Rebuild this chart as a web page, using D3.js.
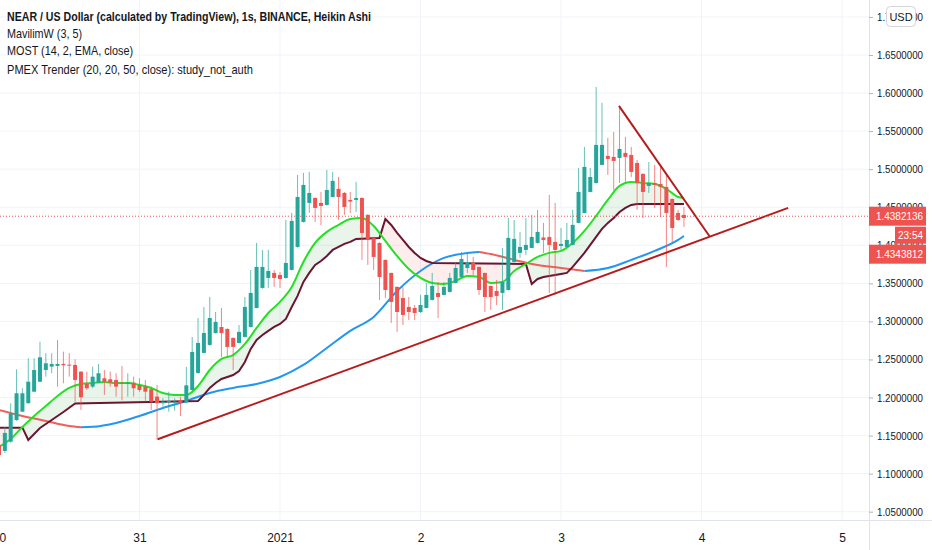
<!DOCTYPE html>
<html>
<head>
<meta charset="utf-8">
<script src="https://cdn.jsdelivr.net/npm/d3@7"></script>
<style>
  html, body { margin: 0; padding: 0; background: #fff; }
  svg { display: block; }
</style>
</head>
<body>
<div id="chart"></div>
<script>
// hourly Heikin Ashi candles, hour 0 = 30 Dec 00:00
const opens = [1.1377,1.1298,1.1420,1.1705,1.1814,1.1925,1.2077,1.2208,1.2362,1.2406,1.2415,1.2441,1.2432,1.2428,1.2340,1.2178,1.2143,1.2195,1.2253,1.2240,
  1.2231,1.2195,1.2178,1.2195,1.2165,1.2143,1.2109,1.2012,1.1925,1.1938,1.1933,1.1964,1.1935,1.2099,1.2323,1.2586,1.2691,1.2848,1.2927,1.2901,
  1.2783,1.2717,1.2796,1.2927,1.3177,1.3440,1.3571,1.3637,1.3611,1.3571,1.3676,1.3978,1.4307,1.4557,1.4622,1.4557,1.4530,1.4635,1.4741,1.4688,
  1.4596,1.4596,1.4622,1.4399,1.4097,1.4031,1.3808,1.3637,1.3453,1.3308,1.3190,1.3177,1.3124,1.3177,1.3282,1.3374,1.3348,1.3387,1.3505,1.3584,
  1.3702,1.3768,1.3716,1.3637,1.3466,1.3400,1.3374,1.3413,1.3781,1.3900,1.3939,1.3965,1.4031,1.4103,1.4110,1.4044,1.3992,1.3978,1.4005,1.4294,
  1.4425,1.4701,1.4819,1.5056,1.5174,1.5161,1.5148,1.5214,1.5187,1.5082,1.4938,1.4780,1.4819,1.4806,1.4767,1.4609,1.4425,1.4399];
const highs = [1.1403,1.1613,1.1925,1.2371,1.2122,1.2516,1.2516,1.2734,1.2582,1.2582,1.2756,1.2603,1.2582,1.2503,1.2345,1.2340,1.2406,1.2441,1.2362,1.2340,
  1.2319,1.2415,1.2319,1.2274,1.2253,1.2231,1.2143,1.2165,1.1990,1.2077,1.1990,1.2012,1.2402,1.2796,1.3045,1.3190,1.3321,1.3124,1.3177,1.2910,
  1.2790,1.2953,1.3321,1.3676,1.4031,1.3939,1.3939,1.3676,1.3650,1.4333,1.4425,1.4924,1.4951,1.4964,1.4630,1.4701,1.4990,1.4964,1.4898,1.4700,
  1.4701,1.4833,1.4630,1.4410,1.4100,1.4040,1.3815,1.3640,1.3460,1.3453,1.3321,1.3216,1.3348,1.3505,1.3637,1.3518,1.3518,1.3637,1.3781,1.3913,
  1.3913,1.3847,1.3720,1.3640,1.3470,1.3545,1.3965,1.4359,1.4333,1.4176,1.4359,1.4399,1.4465,1.4294,1.4662,1.4557,1.4228,1.4294,1.4465,1.5017,
  1.5292,1.5017,1.6081,1.5871,1.5411,1.5490,1.5818,1.5424,1.5292,1.5122,1.4945,1.5095,1.5056,1.5030,1.4924,1.4615,1.4465,1.4504];
const lows = [1.1206,1.1272,1.1403,1.1692,1.1810,1.1920,1.2070,1.2200,1.2274,1.2319,1.2143,1.2188,1.2274,1.1946,1.1837,1.2099,1.2122,1.2190,1.2034,1.2143,
  1.2012,1.1964,1.2012,1.2012,1.2073,1.1946,1.1837,1.1442,1.1880,1.1814,1.1827,1.1758,1.1925,1.2090,1.2310,1.2580,1.2680,1.2840,1.2533,1.2533,
  1.2362,1.2710,1.2790,1.2920,1.3170,1.3430,1.3440,1.3453,1.3440,1.3560,1.3670,1.3970,1.4300,1.4425,1.4307,1.4268,1.4520,1.4630,1.4333,1.4399,
  1.4425,1.4438,1.3808,1.3742,1.3676,1.3282,1.3308,1.2980,1.2862,1.2953,1.3019,1.3019,1.3110,1.3170,1.3275,1.3045,1.3340,1.3380,1.3500,1.3580,
  1.3637,1.3611,1.3348,1.3124,1.3150,1.3216,1.3150,1.3405,1.3775,1.3834,1.3873,1.3960,1.4020,1.3900,1.3374,1.3348,1.3939,1.3970,1.4000,1.4290,
  1.4420,1.4695,1.4810,1.5050,1.4924,1.4727,1.4819,1.4819,1.4898,1.4465,1.4359,1.4688,1.4491,1.4373,1.3716,1.4044,1.4320,1.4241];
const closes = [1.1245,1.1535,1.1793,1.2056,1.2056,1.2208,1.2362,1.2529,1.2450,1.2441,1.2441,1.2424,1.2419,1.2231,1.2004,1.2122,1.2274,1.2319,1.2208,1.2195,
  1.2143,1.2182,1.2195,1.2122,1.2099,1.2077,1.1946,1.1925,1.1946,1.1955,1.1946,1.1933,1.2160,1.2599,1.2717,1.2848,1.3045,1.2993,1.2848,1.2665,
  1.2665,1.2862,1.3190,1.3374,1.3716,1.3716,1.3663,1.3571,1.3558,1.3768,1.4320,1.4635,1.4793,1.4688,1.4491,1.4517,1.4727,1.4846,1.4635,1.4504,
  1.4574,1.4622,1.4162,1.4070,1.3847,1.3584,1.3413,1.3256,1.3124,1.3085,1.3124,1.3111,1.3216,1.3348,1.3466,1.3321,1.3453,1.3571,1.3702,1.3821,
  1.3781,1.3676,1.3413,1.3321,1.3321,1.3335,1.3518,1.4097,1.4084,1.3978,1.4005,1.4110,1.4176,1.4070,1.4005,1.3939,1.4018,1.4070,1.4268,1.4701,
  1.5030,1.4898,1.5319,1.5319,1.5135,1.5108,1.5266,1.5161,1.4964,1.4819,1.4701,1.4819,1.4793,1.4767,1.4425,1.4228,1.4333,1.4359];

// MavilimW (green), sampled every 2 hours
const mavHours = [0,2,4,6,8,10,12,14,16,18,20,22,24,26,28,30,32,34,36,38,40,42,44,46,48,50,52,54,56,58,
  60,62,64,66,68,70,72,74,76,78,80,82,84,86,88,90,92,94,96,98,100,102,104,106,108,110,112,114,116,117];
const mavValues = [1.1350,1.1456,1.1613,1.1758,1.1889,1.2021,1.2126,1.2178,1.2191,1.2205,1.2191,1.2191,1.2165,1.2126,1.2060,1.2034,1.2034,1.2152,1.2362,1.2507,
  1.2559,1.2704,1.2914,1.3111,1.3256,1.3453,1.3781,1.4031,1.4176,1.4267,1.4346,1.4359,1.4254,1.4057,1.3860,1.3689,1.3571,1.3505,1.3492,1.3532,
  1.3597,1.3584,1.3505,1.3519,1.3663,1.3755,1.3847,1.3900,1.3926,1.4031,1.4189,1.4386,1.4596,1.4780,1.4833,1.4819,1.4806,1.4741,1.4635,1.4622];

// MOST (dark line), break points
const mostHours = [0,4,5,7,9,11,13,34,35,36,37,38,39,40,41,42,43,44,45,46,47,48,49,50,51,52,53,54,55,56,57,58,59,60,61,
  65,66,67,68,69,70,71,72,73,74,90,91,92,93,95,96,97,98,99,100,101,102,103,104,105,106,107,108,109,117];
const mostValues = [1.1604,1.1604,1.1442,1.1600,1.1705,1.1810,1.1922,1.1955,1.2034,1.2126,1.2191,1.2244,1.2270,1.2296,1.2349,1.2467,1.2638,1.2756,1.2822,1.2875,
  1.2927,1.2967,1.3032,1.3190,1.3335,1.3519,1.3637,1.3742,1.3794,1.3860,1.3939,1.3978,1.4018,1.4044,1.4084,
  1.4097,1.4346,1.4267,1.4162,1.4070,1.3978,1.3900,1.3834,1.3794,1.3768,1.3755,1.3492,1.3558,1.3584,1.3610,1.3624,1.3637,1.3716,1.3808,1.3900,
  1.4005,1.4110,1.4215,1.4294,1.4359,1.4438,1.4491,1.4530,1.4543,1.4543];

// PMEX Trender
const pmexHours = [0,4,8,12,14,16,20,24,28,32,36,40,44,48,52,56,60,64,68,72,76,80,82,84,88,92,96,100,104,108,112,116,117];
const pmexValues = [1.1837,1.1758,1.1692,1.1626,1.1610,1.1615,1.1666,1.1758,1.1863,1.1955,1.2060,1.2126,1.2178,1.2270,1.2428,1.2651,1.2875,1.3059,1.3400,1.3663,
  1.3834,1.3900,1.3913,1.3886,1.3808,1.3742,1.3702,1.3663,1.3702,1.3808,1.3926,1.4070,1.4123];

// drawn trend lines
const supportHours = [27.1, 134.8];
const supportPrices = [1.1451, 1.4491];
const wedgeHours = [105.9, 121.4];
const wedgePrices = [1.5831, 1.4116];

// axes
const priceTicks = [1.05,1.10,1.15,1.20,1.25,1.30,1.35,1.40,1.45,1.50,1.55,1.60,1.65,1.70];
const dayTicks = [0, 24, 48, 72, 96, 120, 144];
const dayLabels = ['30', '31', '2021', '2', '3', '4', '5'];
const lastPrice = 1.4382136;
const secondPrice = 1.4343812;
const countdown = '23:54';

const legendLines = [
  'NEAR / US Dollar (calculated by TradingView), 1s, BINANCE, Heikin Ashi',
  'MavilimW (3, 5)',
  'MOST (14, 2, EMA, close)',
  'PMEX Trender (20, 20, 50, close): study_not_auth'
];

const width = 932;
const height = 550;
const plotRight = 869;
const plotBottom = 520;
const up = '#26a69a';
const down = '#ef5350';
const font = '"Liberation Sans", Arial, sans-serif';

const svg = d3.select('#chart')
  .append('svg')
  .attr('width', width)
  .attr('height', height)
  .attr('viewBox', [0, 0, width, height]);

const x = d3.scaleLinear().domain([0, 144]).range([-1, 842]);
const y = d3.scaleLinear().domain([1.05, 1.65]).range([511.7, 55]);

const defs = svg.append('defs');
defs.append('clipPath').attr('id', 'plot')
  .append('rect').attr('x', 0).attr('y', 0).attr('width', plotRight).attr('height', plotBottom);

// grid
svg.append('g')
  .selectAll('line')
  .data(priceTicks)
  .join('line')
    .attr('x1', 0).attr('x2', plotRight)
    .attr('y1', d => y(d)).attr('y2', d => y(d))
    .attr('stroke', '#f0f3fa');
svg.append('g')
  .selectAll('line')
  .data(dayTicks)
  .join('line')
    .attr('x1', d => x(d)).attr('x2', d => x(d))
    .attr('y1', 0).attr('y2', plotBottom)
    .attr('stroke', '#f0f3fa');

const plot = svg.append('g').attr('clip-path', 'url(#plot)');

const mav = mavHours.map((h, i) => [h, mavValues[i]]);
const most = mostHours.map((h, i) => [h, mostValues[i]]);

// fills between MavilimW and MOST
defs.append('clipPath').attr('id', 'aboveMost')
  .append('path')
  .attr('d', d3.area().x(d => x(d[0])).y0(0).y1(d => y(d[1]))(most));
defs.append('clipPath').attr('id', 'aboveMav')
  .append('path')
  .attr('d', d3.area().curve(d3.curveMonotoneX).x(d => x(d[0])).y0(0).y1(d => y(d[1]))(mav));

plot.append('g').attr('clip-path', 'url(#aboveMost)')
  .append('path')
  .attr('d', d3.area().curve(d3.curveMonotoneX).x(d => x(d[0])).y0(plotBottom).y1(d => y(d[1]))(mav))
  .attr('fill', 'rgba(76, 175, 80, 0.12)');
plot.append('g').attr('clip-path', 'url(#aboveMav)')
  .append('path')
  .attr('d', d3.area().x(d => x(d[0])).y0(plotBottom).y1(d => y(d[1]))(most))
  .attr('fill', 'rgba(239, 83, 80, 0.10)');

// PMEX trender: blue while rising, red while falling
const pmex = pmexHours.map((h, i) => [h, pmexValues[i]]);
const runs = [];
let run = [pmex[0]];
let dir = Math.sign(pmex[1][1] - pmex[0][1]);
for (let i = 1; i < pmex.length; i++) {
  const s = Math.sign(pmex[i][1] - pmex[i - 1][1]);
  if (s !== 0 && s !== dir) {
    runs.push({ dir, pts: run });
    run = [pmex[i - 1]];
    dir = s;
  }
  run.push(pmex[i]);
}
runs.push({ dir, pts: run });

const smooth = d3.line().curve(d3.curveMonotoneX).x(d => x(d[0])).y(d => y(d[1]));
plot.append('g')
  .selectAll('path')
  .data(runs)
  .join('path')
    .attr('d', d => smooth(d.pts))
    .attr('fill', 'none')
    .attr('stroke', d => d.dir > 0 ? '#2196f3' : '#f0605a')
    .attr('stroke-width', 2);

plot.append('path')
  .attr('d', d3.line().x(d => x(d[0])).y(d => y(d[1]))(most))
  .attr('fill', 'none')
  .attr('stroke', '#6b1530')
  .attr('stroke-width', 2);

plot.append('path')
  .attr('d', smooth(mav))
  .attr('fill', 'none')
  .attr('stroke', '#22e022')
  .attr('stroke-width', 2);

// candles
const candles = d3.range(opens.length).map(i => ({
  h: i, o: opens[i], h1: highs[i], l: lows[i], c: closes[i]
}));

const cg = plot.append('g');
cg.selectAll('line')
  .data(candles)
  .join('line')
    .attr('x1', d => x(d.h)).attr('x2', d => x(d.h))
    .attr('y1', d => y(d.h1)).attr('y2', d => y(d.l))
    .attr('stroke', d => d.c >= d.o ? up : down)
    .attr('stroke-opacity', 0.7)
    .attr('stroke-width', 1);
cg.selectAll('rect')
  .data(candles)
  .join('rect')
    .attr('x', d => x(d.h) - 2)
    .attr('y', d => y(Math.max(d.o, d.c)))
    .attr('width', 4)
    .attr('height', d => Math.max(1, Math.abs(y(d.o) - y(d.c))))
    .attr('fill', d => d.c >= d.o ? up : down);

// trend lines
const straight = d3.line().x(d => x(d[0])).y(d => y(d[1]));
[[supportHours, supportPrices], [wedgeHours, wedgePrices]].forEach(([hs, ps]) => {
  plot.append('path')
    .attr('d', straight(hs.map((h, i) => [h, ps[i]])))
    .attr('fill', 'none')
    .attr('stroke', '#b71c1c')
    .attr('stroke-width', 2);
});

// last price dotted line
plot.append('line')
  .attr('x1', 0).attr('x2', plotRight)
  .attr('y1', y(lastPrice)).attr('y2', y(lastPrice))
  .attr('stroke', down)
  .attr('stroke-dasharray', '1,2');

// borders
svg.append('line')
  .attr('x1', 0).attr('x2', width)
  .attr('y1', plotBottom + 0.5).attr('y2', plotBottom + 0.5)
  .attr('stroke', '#e0e3eb');
svg.append('line')
  .attr('x1', plotRight + 0.5).attr('x2', plotRight + 0.5)
  .attr('y1', 0).attr('y2', height)
  .attr('stroke', '#e0e3eb');

// price axis
function yAxis(g) {
  g.attr('transform', `translate(${plotRight}, 0)`)
    .call(d3.axisRight(y).tickValues(priceTicks).tickFormat(d => d.toFixed(7)).tickSize(4).tickPadding(4))
    .call(g => g.select('.domain').remove())
    .call(g => g.selectAll('.tick line').attr('stroke', '#b2b5be'))
    .call(g => g.selectAll('.tick text')
      .attr('fill', '#131722')
      .attr('font-size', 11)
      .attr('font-family', font)
      .attr('textLength', 46)
      .attr('lengthAdjust', 'spacingAndGlyphs'));
}

function xAxis(g) {
  g.attr('transform', `translate(0, ${plotBottom})`)
    .call(d3.axisBottom(x).tickValues(dayTicks).tickFormat((d, i) => dayLabels[i]).tickSize(0).tickPadding(13))
    .call(g => g.select('.domain').remove())
    .call(g => g.selectAll('.tick text')
      .attr('fill', '#131722')
      .attr('font-size', 12)
      .attr('font-family', font));
}

svg.append('g').call(yAxis);
svg.append('g').call(xAxis);

// price labels on the axis
const ly = y(lastPrice);
const labels = svg.append('g').attr('font-family', font).attr('font-size', 11).attr('fill', '#fff');
labels.append('rect').attr('x', plotRight).attr('y', ly - 9.5).attr('width', 57).attr('height', 19).attr('fill', down);
labels.append('text').attr('x', 876).attr('y', ly + 4).attr('textLength', 47).attr('lengthAdjust', 'spacingAndGlyphs').text(lastPrice.toFixed(7));
labels.append('rect').attr('x', 895).attr('y', ly + 10.5).attr('width', 31).attr('height', 17).attr('fill', down);
labels.append('text').attr('x', 898).attr('y', ly + 23).attr('textLength', 25).attr('lengthAdjust', 'spacingAndGlyphs').text(countdown);
labels.append('rect').attr('x', plotRight).attr('y', ly + 28.5).attr('width', 57).attr('height', 19).attr('fill', down);
labels.append('text').attr('x', 876).attr('y', ly + 42).attr('textLength', 47).attr('lengthAdjust', 'spacingAndGlyphs').text(secondPrice.toFixed(7));

// currency badge
svg.append('rect')
  .attr('x', 886.5).attr('y', 6.5).attr('width', 29).attr('height', 20).attr('rx', 4)
  .attr('fill', '#fff').attr('stroke', '#d1d4dc');
svg.append('text')
  .attr('x', 901).attr('y', 20.5)
  .attr('text-anchor', 'middle')
  .attr('font-family', font).attr('font-size', 11).attr('fill', '#131722')
  .text('USD');

// legend
const legendY = [21, 38, 55, 74];
const legendW = [364, 75, 126, 246];
svg.append('g')
  .selectAll('text')
  .data(legendLines)
  .join('text')
    .attr('x', 7)
    .attr('y', (d, i) => legendY[i])
    .attr('font-family', font)
    .attr('font-size', 13)
    .attr('font-weight', (d, i) => i === 0 ? 600 : 400)
    .attr('fill', '#131722')
    .attr('textLength', (d, i) => legendW[i])
    .attr('lengthAdjust', 'spacingAndGlyphs')
    .text(d => d);
</script>
</body>
</html>
